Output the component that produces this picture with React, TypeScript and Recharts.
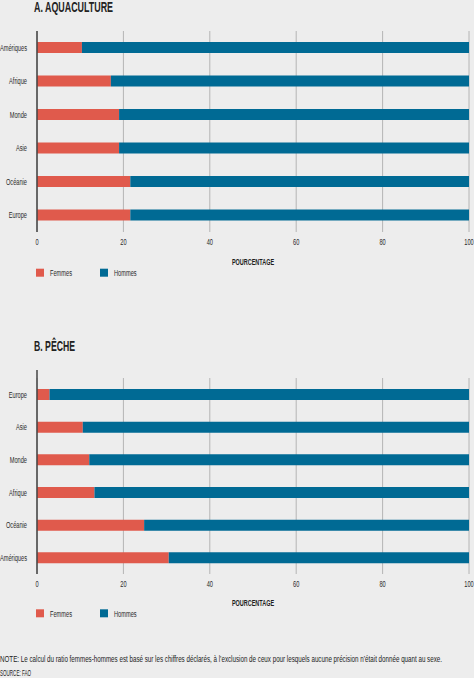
import React from 'react';
import { BarChart, Bar, XAxis, YAxis, CartesianGrid, Label } from 'recharts';

const aquaCategories = ['Amériques', 'Afrique', 'Monde', 'Asie', 'Océanie', 'Europe'];
const aquaFemmes = [10.4, 17.1, 19.0, 19.0, 21.6, 21.6];
const aquaHommes = [89.6, 82.9, 81.0, 81.0, 78.4, 78.4];

const pecheCategories = ['Europe', 'Asie', 'Monde', 'Afrique', 'Océanie', 'Amériques'];
const pecheFemmes = [2.9, 10.6, 12.1, 13.3, 24.8, 30.5];
const pecheHommes = [97.1, 89.4, 87.9, 86.7, 75.2, 69.5];

const xTicks = [0, 20, 40, 60, 80, 100];
const seriesNames = ['Femmes', 'Hommes'];
const seriesColors = ['#e05a4c', '#006a94'];
const axisTitle = 'POURCENTAGE';

const FONT = "'Liberation Sans', Arial, sans-serif";
const FS = 9;
const SX = 0.63;

function YTick(props: any) {
  const { x, y, payload } = props;
  return (
    <g transform={`translate(${x},${y}) scale(${SX},1)`}>
      <text x={0} y={0} dy="0.355em" textAnchor="end" fontSize={FS} fill="#2a2a2a" fontFamily={FONT}>
        {payload.value}
      </text>
    </g>
  );
}

function XTick(props: any) {
  const { x, y, payload } = props;
  return (
    <g transform={`translate(${x},${y}) scale(${SX},1)`}>
      <text x={0} y={0} dy="0.71em" textAnchor="middle" fontSize={FS} fill="#2a2a2a" fontFamily={FONT}>
        {payload.value}
      </text>
    </g>
  );
}

function AxisTitle(props: any) {
  const { viewBox, offset } = props;
  const cx = viewBox.x + viewBox.width / 2;
  const by = viewBox.y + viewBox.height - offset;
  return (
    <g transform={`translate(${cx},${by}) scale(0.61,1)`}>
      <text x={0} y={0} textAnchor="middle" fontSize={FS} fontWeight="bold" fill="#1e1e1e" fontFamily={FONT}>
        {axisTitle}
      </text>
    </g>
  );
}

type PanelProps = {
  top: number;
  categories: string[];
  femmes: number[];
  hommes: number[];
  marginTop: number;
  xAxisHeight: number;
  padTop: number;
  gridY?: number;
  gridH?: number;
  labelOffset: number;
};

function Panel(p: PanelProps) {
  const data = p.categories.map((c, i) => ({
    cat: c,
    [seriesNames[0]]: p.femmes[i],
    [seriesNames[1]]: p.hommes[i],
  }));
  const gridProps: any = {};
  if (p.gridY !== undefined) {
    gridProps.y = p.gridY;
    gridProps.height = p.gridH;
  }
  return (
    <div style={{ position: 'absolute', left: 0, top: p.top }}>
      <BarChart
        width={474}
        height={290}
        data={data}
        layout="vertical"
        margin={{ top: p.marginTop, right: 5, left: 0, bottom: 0 }}
      >
        <CartesianGrid horizontal={false} stroke="#b4b4b4" strokeWidth={1} {...gridProps} />
        <XAxis
          type="number"
          domain={[0, 100]}
          ticks={xTicks}
          interval={0}
          axisLine={false}
          tickLine={false}
          tickSize={6}
          tickMargin={1}
          height={p.xAxisHeight}
          tick={<XTick />}
        >
          <Label position="insideBottom" offset={p.labelOffset} content={<AxisTitle />} />
        </XAxis>
        <YAxis
          type="category"
          dataKey="cat"
          width={37}
          axisLine={{ stroke: '#444', strokeWidth: 1.5 }}
          tickLine={false}
          tickSize={6}
          tickMargin={4}
          interval={0}
          padding={{ top: p.padTop, bottom: 0 }}
          tick={<YTick />}
        />
        {seriesNames.map((n, i) => (
          <Bar
            key={n}
            dataKey={n}
            stackId="s"
            fill={seriesColors[i]}
            barSize={11}
            isAnimationActive={false}
          />
        ))}
      </BarChart>
    </div>
  );
}

function LegendRow({ y }: { y: number }) {
  const xs = [36, 100];
  return (
    <>
      {seriesNames.map((n, i) => (
        <g key={n}>
          <rect x={xs[i]} y={y - 4} width={8} height={8} fill={seriesColors[i]} />
          <g transform={`translate(${xs[i] + 14},${y + 3.2}) scale(${SX},1)`}>
            <text x={0} y={0} fontSize={FS} fill="#2a2a2a" fontFamily={FONT}>
              {n}
            </text>
          </g>
        </g>
      ))}
    </>
  );
}

export default function App() {
  return (
    <div
      style={{
        position: 'absolute',
        left: 0,
        top: 0,
        width: 474,
        height: 678,
        background: '#ededed',
        overflow: 'hidden',
      }}
    >
      <Panel
        top={0}
        categories={aquaCategories}
        femmes={aquaFemmes}
        hommes={aquaHommes}
        marginTop={31}
        xAxisHeight={58}
        padTop={0}
        labelOffset={25}
      />
      <Panel
        top={340}
        categories={pecheCategories}
        femmes={pecheFemmes}
        hommes={pecheHommes}
        marginTop={30}
        xAxisHeight={56}
        padTop={8}
        gridY={38}
        gridH={196}
        labelOffset={24}
      />
      <svg
        width={474}
        height={678}
        style={{ position: 'absolute', left: 0, top: 0, pointerEvents: 'none' }}
      >
        <text
          x={34}
          y={11.5}
          fontSize={15}
          fontWeight="bold"
          fill="#222"
          fontFamily={FONT}
          textLength={79}
          lengthAdjust="spacingAndGlyphs"
        >
          A. AQUACULTURE
        </text>
        <text
          x={34}
          y={350.5}
          fontSize={15}
          fontWeight="bold"
          fill="#222"
          fontFamily={FONT}
          textLength={41}
          lengthAdjust="spacingAndGlyphs"
        >
          B. PÊCHE
        </text>
        <LegendRow y={272.7} />
        <LegendRow y={613.3} />
        <text
          x={0}
          y={661.5}
          fontSize={9}
          fill="#222"
          fontFamily={FONT}
          textLength={442}
          lengthAdjust="spacingAndGlyphs"
        >
          NOTE: Le calcul du ratio femmes-hommes est basé sur les chiffres déclarés, à l’exclusion de ceux pour lesquels aucune précision n’était donnée quant au sexe.
        </text>
        <text
          x={0}
          y={676}
          fontSize={9}
          fill="#222"
          fontFamily={FONT}
          textLength={31}
          lengthAdjust="spacingAndGlyphs"
        >
          SOURCE: FAO
        </text>
      </svg>
    </div>
  );
}
